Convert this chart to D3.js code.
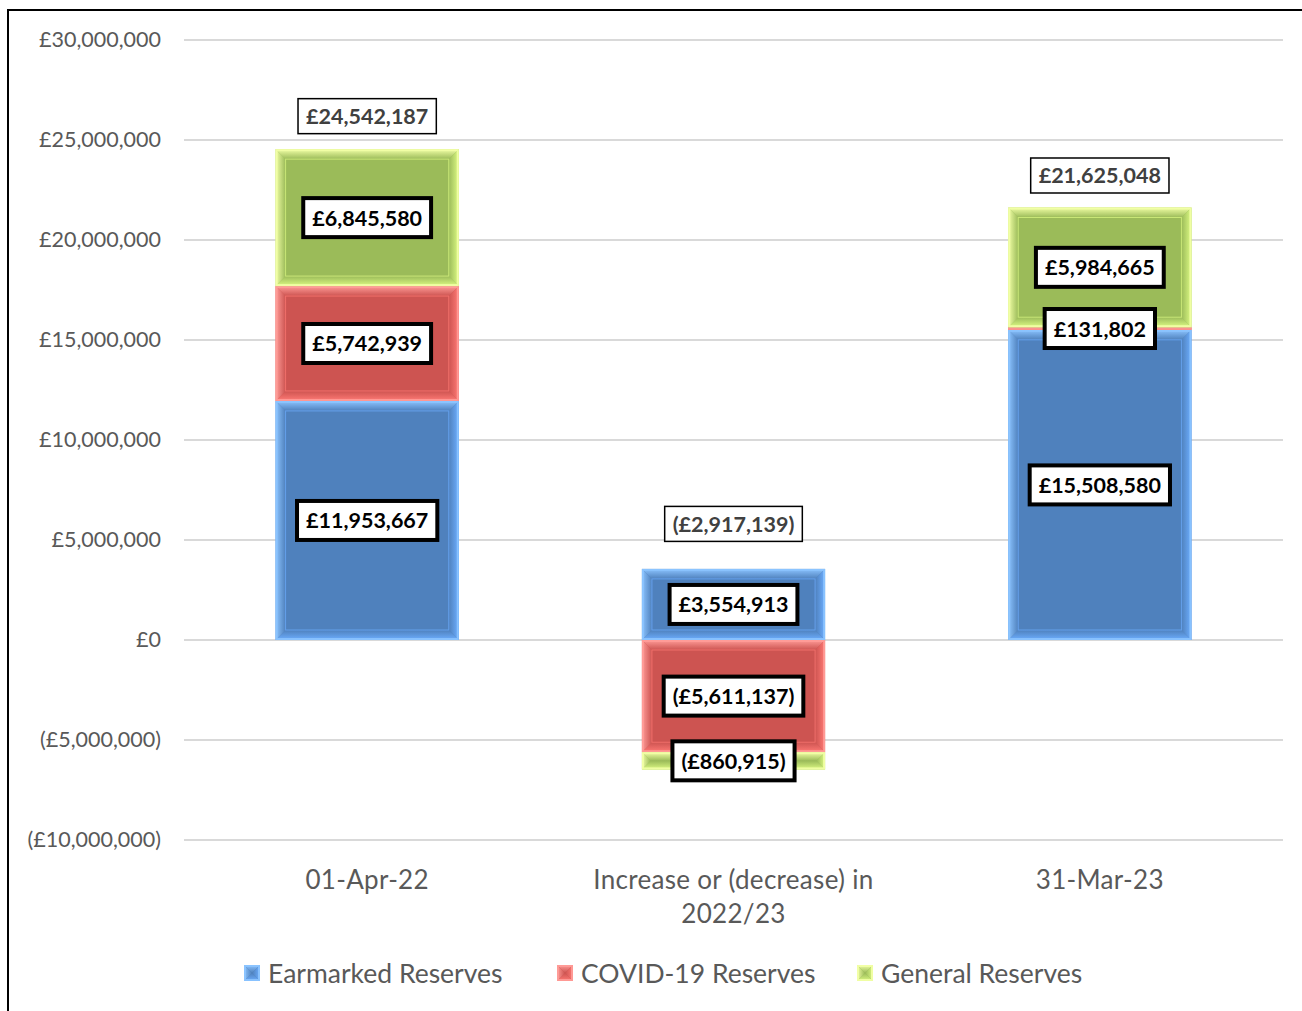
<!DOCTYPE html>
<html>
<head>
<meta charset="utf-8">
<script src="https://cdn.jsdelivr.net/npm/d3@7"></script>
<style>
  body { margin: 0; background: #fff; }
  svg { display: block; }
</style>
</head>
<body>
<svg id="chart" width="1302" height="1011"></svg>
<script>
/* Chart data */
var categories = ["01-Apr-22", "Increase or (decrease) in\n2022/23", "31-Mar-23"];
var seriesNames = ["Earmarked Reserves", "COVID-19 Reserves", "General Reserves"];
var earmarked = [11953667, 3554913, 15508580];
var covid = [5742939, -5611137, 131802];
var general = [6845580, -860915, 5984665];
var totals = [24542187, -2917139, 21625048];
var yTicks = [-10000000, -5000000, 0, 5000000, 10000000, 15000000, 20000000, 25000000, 30000000];

/* Colours: rim light, bevel edge, main fill */
var palette = [
  {light: "#8CC4FF", main: "#4F81BD", edge: "#6DAEFF"},
  {light: "#FF9C98", main: "#CD5451", edge: "#FF7A75"},
  {light: "#F2FFA6", main: "#9BBB59", edge: "#DDFA84"}
];

var svg = d3.select("#chart");
var W = 1302, H = 1011;

// outer frame (left and top edges visible)
svg.append("rect")
  .attr("x", 8).attr("y", 10)
  .attr("width", W + 20).attr("height", H + 20)
  .attr("fill", "none").attr("stroke", "#000").attr("stroke-width", 2);

var x = d3.scaleBand()
  .domain(d3.range(categories.length))
  .range([184, 1283])
  .paddingInner(0.5)
  .paddingOuter(0.25);

var y = d3.scaleLinear().domain([-10000000, 30000000]).range([840, 40]);

function money(v){
  var s = "£" + d3.format(",")(Math.abs(v));
  return v < 0 ? "(" + s + ")" : s;
}

/* gridlines */
svg.append("g").selectAll("line")
  .data(yTicks)
  .enter().append("line")
  .attr("x1", 184).attr("x2", 1283)
  .attr("y1", function(d){ return y(d); })
  .attr("y2", function(d){ return y(d); })
  .attr("stroke", "#d9d9d9").attr("stroke-width", 2);

/* y axis labels */
var yAxis = d3.axisLeft(y).tickValues(yTicks).tickSize(0).tickFormat(money);
var yG = svg.append("g").attr("transform", "translate(161,0)").call(yAxis);
yG.select(".domain").remove();
yG.selectAll("text")
  .attr("x", 0)
  .attr("fill", "#595959")
  .style("font-family", "Lato, sans-serif")
  .style("font-size", "21.5px");

/* stack */
var rows = categories.map(function(c, i){
  return {i: i, e: earmarked[i], c: covid[i], g: general[i]};
});
var stack = d3.stack().keys(["e", "c", "g"]).offset(d3.stackOffsetDiverging);
var layers = stack(rows);

/* gradient defs for bevel sides */
var defs = svg.append("defs");
var dirs = {
  top: [0, 0, 0, 1], bottom: [0, 1, 0, 0],
  left: [0, 0, 1, 0], right: [1, 0, 0, 0]
};
palette.forEach(function(p, k){
  Object.keys(dirs).forEach(function(side){
    var d = dirs[side];
    var g = defs.append("linearGradient")
      .attr("id", "bev-" + k + "-" + side)
      .attr("x1", d[0]).attr("y1", d[1]).attr("x2", d[2]).attr("y2", d[3]);
    var light = (side === "top" || side === "left") ? p.light : p.edge;
    g.append("stop").attr("offset", "0%").attr("stop-color", light);
    g.append("stop").attr("offset", "100%").attr("stop-color", p.main);
  });
});

//Draws one beveled segment
function bevelRect(g, k, x0, y0, w, h){
  var b = Math.min(10, h / 2, w / 2);
  var p = palette[k];
  g.append("rect").attr("x", x0).attr("y", y0).attr("width", w).attr("height", h)
    .attr("fill", p.main);
  var x1 = x0 + w, y1 = y0 + h;
  var sides = {
    top: [[x0, y0], [x1, y0], [x1 - b, y0 + b], [x0 + b, y0 + b]],
    bottom: [[x0, y1], [x1, y1], [x1 - b, y1 - b], [x0 + b, y1 - b]],
    left: [[x0, y0], [x0 + b, y0 + b], [x0 + b, y1 - b], [x0, y1]],
    right: [[x1, y0], [x1 - b, y0 + b], [x1 - b, y1 - b], [x1, y1]]
  };
  Object.keys(sides).forEach(function(side){
    g.append("polygon")
      .attr("points", sides[side].map(function(pt){ return pt.join(","); }).join(" "))
      .attr("fill", "url(#bev-" + k + "-" + side + ")");
  });
  if (h > 4) {
    g.append("rect").attr("x", x0 + b).attr("y", y0 + b)
      .attr("width", Math.max(0, w - 2 * b)).attr("height", Math.max(0, h - 2 * b))
      .attr("fill", "none").attr("stroke", p.edge).attr("stroke-width", 1).attr("opacity", 0.7);
  }
  g.append("rect").attr("x", x0 + 1).attr("y", y0 + 1).attr("width", Math.max(0, w - 2)).attr("height", Math.max(0, h - 2))
    .attr("fill", "none").attr("stroke", p.light).attr("stroke-width", 2).attr("opacity", 0.9);
}

var barsG = svg.append("g").attr("class", "bars");
layers.forEach(function(layer, k){
  layer.forEach(function(d, i){
    var top = y(Math.max(d[0], d[1]));
    var bot = y(Math.min(d[0], d[1]));
    bevelRect(barsG, k, x(i), top, x.bandwidth(), bot - top);
  });
});

/* segment labels */
var labelG = svg.append("g").attr("class", "labels");
function boxLabel(cx, cy, text, opts){
  var g = labelG.append("g");
  var t = g.append("text")
    .attr("x", cx).attr("y", cy)
    .attr("text-anchor", "middle")
    .attr("dominant-baseline", "central")
    .attr("fill", opts.color)
    .style("font-family", "Lato, sans-serif")
    .style("font-weight", "bold")
    .style("font-size", opts.size + "px")
    .text(text);
  var w = t.node().getComputedTextLength();
  g.insert("rect", "text")
    .attr("x", cx - w / 2 - opts.padX)
    .attr("y", cy - opts.h / 2)
    .attr("width", w + 2 * opts.padX)
    .attr("height", opts.h)
    .attr("fill", "#fff")
    .attr("stroke", "#000")
    .attr("stroke-width", opts.stroke);
}

layers.forEach(function(layer, k){
  layer.forEach(function(d, i){
    var cy = (y(d[0]) + y(d[1])) / 2;
    var v = rows[i][layer.key];
    boxLabel(x(i) + x.bandwidth() / 2, cy, money(v),
      {color: "#000", size: 21.5, padX: 9, h: 39, stroke: 4});
  });
});

/* total labels, sitting above the positive stack */
var totalOffset = [33, 45, 32];
totals.forEach(function(t, i){
  var posTop = d3.max(layers, function(l){ return l[i][1]; });
  boxLabel(x(i) + x.bandwidth() / 2, y(posTop) - totalOffset[i], money(t),
    {color: "#404040", size: 21.5, padX: 8, h: 35, stroke: 1.5});
});

/* category labels */
var catG = svg.append("g");
categories.forEach(function(c, i){
  var lines = c.split("\n");
  var t = catG.append("text")
    .attr("x", x(i) + x.bandwidth() / 2)
    .attr("y", 889)
    .attr("text-anchor", "middle")
    .attr("fill", "#595959")
    .style("font-family", "Lato, sans-serif")
    .style("font-size", "26px")
    .style("letter-spacing", "0.3px");
  lines.forEach(function(l, j){
    t.append("tspan").attr("x", x(i) + x.bandwidth() / 2).attr("dy", j === 0 ? 0 : 34).text(l);
  });
});

/* legend */
var legendX = [244, 557, 857];
var legG = svg.append("g");
seriesNames.forEach(function(name, k){
  var g = legG.append("g").attr("transform", "translate(" + legendX[k] + ",965)");
  bevelRect(g, k, 0, 0, 16, 16);
  g.append("text")
    .attr("x", 24).attr("y", 8)
    .attr("dominant-baseline", "central")
    .attr("fill", "#595959")
    .style("font-family", "Lato, sans-serif")
    .style("font-size", "26.5px")
    .text(name);
});
</script>
</body>
</html>
